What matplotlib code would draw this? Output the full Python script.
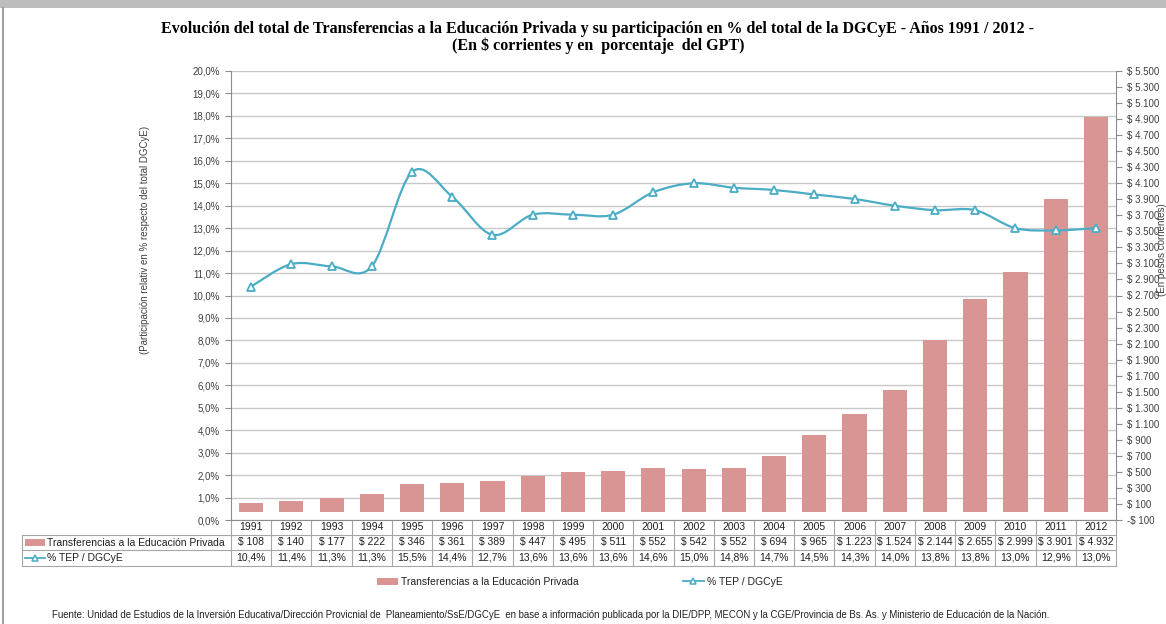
import numpy as np
import matplotlib
matplotlib.use('Agg')
import matplotlib.pyplot as plt
import matplotlib.transforms as mtransforms
from matplotlib.path import Path
from matplotlib.patches import PathPatch, Rectangle
from matplotlib.lines import Line2D

years = ['1991', '1992', '1993', '1994', '1995', '1996', '1997', '1998', '1999', '2000', '2001',
         '2002', '2003', '2004', '2005', '2006', '2007', '2008', '2009', '2010', '2011', '2012']
transferencias = [108, 140, 177, 222, 346, 361, 389, 447, 495, 511, 552,
                  542, 552, 694, 965, 1223, 1524, 2144, 2655, 2999, 3901, 4932]
pct_tep = [10.4, 11.4, 11.3, 11.3, 15.5, 14.4, 12.7, 13.6, 13.6, 13.6, 14.6,
           15.0, 14.8, 14.7, 14.5, 14.3, 14.0, 13.8, 13.8, 13.0, 12.9, 13.0]

bar_label = 'Transferencias a la Educación Privada'
line_label = '% TEP / DGCyE'
title = ('Evolución del total de Transferencias a la Educación Privada y su participación en % '
         'del total de la DGCyE - Años 1991 / 2012 -\n(En $ corrientes y en  porcentaje  del GPT)')
fuente = ('Fuente: Unidad de Estudios de la Inversión Educativa/Dirección Provicnial de  Planeamiento/SsE/DGCyE  '
          'en base a información publicada por la DIE/DPP, MECON y la CGE/Provincia de Bs. As. y '
          'Ministerio de Educación de la Nación.')

BAR_C = '#d99594'
LINE_C = '#4bacc6'
GRID_C = '#c8c8c8'
AX_C = '#8c8c8c'
TXT_C = '#404040'

plt.rcParams['font.family'] = ['Liberation Sans', 'DejaVu Sans']

W, H = 1166, 624


def fx(px):
    return px / W


def fy(py):
    return 1 - py / H


def peso(v):
    s = '{:,.0f}'.format(abs(v)).replace(',', '.')
    return ('-$ ' if v < 0 else '$ ') + s


def pct(v):
    return '{:.1f}%'.format(v).replace('.', ',')


fig = plt.figure(figsize=(W / 100, H / 100), dpi=100)

# outer frame
fig.patches.append(Rectangle((0, fy(8)), 1, fy(0) - fy(8), transform=fig.transFigure,
                             facecolor='#bdbdbd', edgecolor='none'))
fig.lines.append(Line2D([fx(3), fx(3)], [0, fy(8)], transform=fig.transFigure, color='#a0a0a0', lw=1.5))

left, right, top, bottom = 231, 1116, 71, 520
ax = fig.add_axes([fx(left), fy(bottom), fx(right - left), fy(top) - fy(bottom)])
n = len(years)
x = np.arange(n)

# bars on the $ axis (right)
ymin, ymax = -100, 5500
ax.set_ylim(ymin, ymax)
ax.set_xlim(-0.5, n - 0.5)
pct_ticks = np.arange(0, 21, 1)
for p in pct_ticks:
    ax.axhline(ymin + p / 20 * (ymax - ymin), color=GRID_C, lw=1, zorder=0)
ax.bar(x, transferencias, width=0.6, color=BAR_C, zorder=2)
ax.set_xticks([])

# line on the % axis (left)
ax2 = ax.twinx()
ax2.set_ylim(0, 20)

ax.yaxis.tick_right()
ax.set_yticks(np.arange(-100, 5501, 200))
ax.set_yticklabels([peso(v) for v in np.arange(-100, 5501, 200)])
ax.tick_params(axis='y', direction='out', length=4, color=AX_C, labelsize=7, labelcolor=TXT_C, pad=4)
for s in ['top', 'left']:
    ax.spines[s].set_visible(False)
for s in ['right', 'bottom']:
    ax.spines[s].set_color(AX_C)

ax2.yaxis.tick_left()
ax2.set_yticks(pct_ticks)
ax2.set_yticklabels([pct(v) for v in pct_ticks])
ax2.tick_params(axis='y', direction='out', length=4, color=AX_C, labelsize=7, labelcolor=TXT_C, pad=4)
for s in ['top', 'right', 'bottom']:
    ax2.spines[s].set_visible(False)
ax2.spines['left'].set_color(AX_C)

# smoothed line (catmull-rom bezier through the data points)
pts = np.column_stack([x, pct_tep]).astype(float)
verts = [pts[0]]
codes = [Path.MOVETO]
for i in range(n - 1):
    p0 = pts[i - 1] if i > 0 else pts[i]
    p1, p2 = pts[i], pts[i + 1]
    p3 = pts[i + 2] if i + 2 < n else pts[i + 1]
    verts += [p1 + (p2 - p0) / 6, p2 - (p3 - p1) / 6, p2]
    codes += [Path.CURVE4] * 3
ax2.add_patch(PathPatch(Path(verts, codes), facecolor='none', edgecolor=LINE_C, lw=1.6, zorder=3))
ax2.plot(x, pct_tep, ls='none', marker='^', ms=6, mfc='white', mec=LINE_C, mew=1.3, zorder=4)

# axis titles
fig.text(fx(145), fy(240), '(Participación relativ en % respecto del total DGCyE)', rotation=90,
         ha='center', va='center', fontsize=7, color=TXT_C)
fig.text(fx(1162), fy(250), '(En pesos corrientes)', rotation=90,
         ha='center', va='center', fontsize=7, color=TXT_C)

# data table
bt = mtransforms.blended_transform_factory(ax.transData, fig.transFigure)
row_y = [520, 535, 550, 566]
TBL_C = '#a6a6a6'
for k in range(n + 1):
    xb = k - 0.5
    ax.plot([xb, xb], [fy(520), fy(566)], color=TBL_C, lw=0.8, transform=bt, clip_on=False)
for yy in row_y[1:]:
    fig.lines.append(Line2D([fx(22), fx(right)], [fy(yy), fy(yy)], transform=fig.transFigure,
                            color=TBL_C, lw=0.8))
fig.lines.append(Line2D([fx(22), fx(22)], [fy(535), fy(566)], transform=fig.transFigure, color=TBL_C, lw=0.8))
for i in range(n):
    ax.text(i, fy(527.5), years[i], transform=bt, ha='center', va='center', fontsize=7.5, color='#202020')
    ax.text(i, fy(542.5), peso(transferencias[i]), transform=bt, ha='center', va='center',
            fontsize=7.5, color='#202020')
    ax.text(i, fy(558), pct(pct_tep[i]), transform=bt, ha='center', va='center',
            fontsize=7.5, color='#202020')
fig.patches.append(Rectangle((fx(25), fy(546)), fx(20), fy(539) - fy(546), transform=fig.transFigure,
                             facecolor=BAR_C, edgecolor='none'))
fig.text(fx(47), fy(542.5), bar_label, ha='left', va='center', fontsize=7.5, color='#202020')
fig.lines.append(Line2D([fx(25), fx(45)], [fy(558), fy(558)], transform=fig.transFigure,
                        color=LINE_C, lw=1.3))
fig.lines.append(Line2D([fx(35)], [fy(558)], transform=fig.transFigure, ls='none',
                        marker='^', ms=5, mfc='white', mec=LINE_C, mew=1.1))
fig.text(fx(47), fy(558), line_label, ha='left', va='center', fontsize=7.5, color='#202020')

# legend
handles = [Rectangle((0, 0), 1, 1, facecolor=BAR_C, edgecolor='none'),
           Line2D([], [], color=LINE_C, lw=1.3, marker='^', ms=5, mfc='white', mec=LINE_C, mew=1.1)]
fig.legend(handles, [bar_label, line_label], loc='center', bbox_to_anchor=(fx(580), fy(582)),
           ncol=2, frameon=False, fontsize=7.5, columnspacing=10, handlelength=2.0, handletextpad=0.3,
           labelcolor='#202020')

fig.text(fx(598), fy(37.5), title, ha='center', va='center', fontsize=11.5, fontweight='bold',
         family='Liberation Serif', linespacing=0.98)
fig.text(fx(52), fy(615), fuente, ha='left', va='center', fontsize=6.9, color='#202020')

fig.savefig('out.png', dpi=100)
